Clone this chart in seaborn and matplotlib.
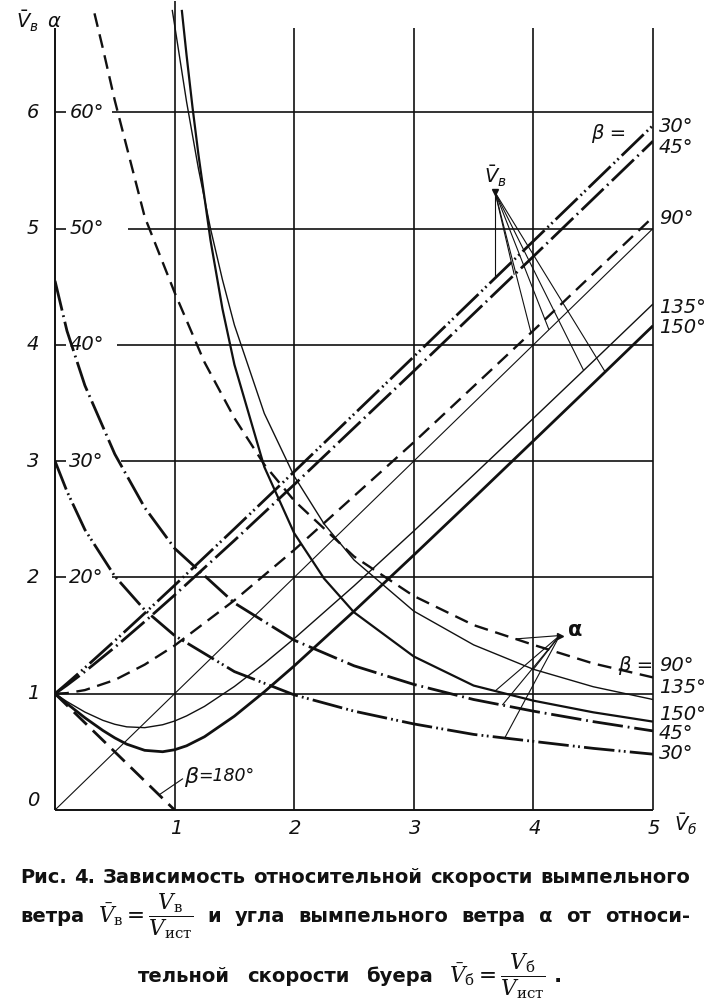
import numpy as np
import matplotlib
matplotlib.use("Agg")
import matplotlib.pyplot as plt
import seaborn as sns

# apparent wind speed Vв (relative) vs boat speed Vб (relative), per course angle beta
vb_hi = [0, 0.1, 0.25, 0.5, 0.75, 1, 1.5, 2, 3, 4, 5]
vv_30 = [1.0, 1.088, 1.223, 1.455, 1.692, 1.932, 2.418, 2.909, 3.898, 4.892, 5.887]
vv_45 = [1.0, 1.073, 1.190, 1.399, 1.620, 1.848, 2.318, 2.798, 3.774, 4.760, 5.751]
vv_90 = [1.0, 1.005, 1.031, 1.118, 1.250, 1.414, 1.803, 2.236, 3.162, 4.123, 5.099]
vb_lo = [0, 0.1, 0.25, 0.4, 0.5, 0.6, 0.75, 0.9, 1, 1.1, 1.25, 1.5, 1.75, 2, 2.5, 3, 3.5, 4, 4.5, 5]
vv_135 = [1.0, 0.932, 0.842, 0.771, 0.737, 0.715, 0.708, 0.733, 0.765, 0.809, 0.891, 1.062,
          1.260, 1.474, 1.927, 2.399, 2.881, 3.368, 3.858, 4.351]
vv_150 = [1.0, 0.915, 0.793, 0.684, 0.620, 0.566, 0.513, 0.501, 0.518, 0.552, 0.630, 0.807,
          1.016, 1.239, 1.709, 2.192, 2.681, 3.174, 3.668, 4.164]
vb_180 = [0, 0.5, 1]
vv_180 = [1.0, 0.5, 0.0]
vb_ref = [0, 5]
vv_ref = [0, 5]

# apparent wind angle alpha (degrees / 10, same y scale)
al_30_x = [0, 0.1, 0.25, 0.5, 0.75, 1, 1.5, 2, 2.5, 3, 3.5, 4, 4.5, 5]
al_30 = [3.0, 2.74, 2.41, 2.01, 1.72, 1.50, 1.19, 0.99, 0.85, 0.74, 0.65, 0.59, 0.53, 0.48]
al_45_x = [0, 0.1, 0.25, 0.5, 0.75, 1, 1.5, 2, 2.5, 3, 3.5, 4, 4.5, 5]
al_45 = [4.55, 4.12, 3.65, 3.06, 2.60, 2.25, 1.78, 1.46, 1.24, 1.08, 0.95, 0.85, 0.76, 0.68]
al_90_x = [0.33, 0.4, 0.5, 0.6, 0.75, 1, 1.25, 1.5, 1.75, 2, 2.5, 3, 3.5, 4, 4.5, 5]
al_90 = [6.85, 6.55, 6.1, 5.7, 5.1, 4.45, 3.85, 3.37, 2.97, 2.66, 2.18, 1.84, 1.59, 1.42, 1.26, 1.14]
al_135_x = [0.98, 1.0, 1.1, 1.2, 1.3, 1.4, 1.5, 1.75, 2, 2.25, 2.5, 3, 3.5, 4, 4.5, 5]
al_135 = [6.88, 6.75, 6.09, 5.51, 5.00, 4.56, 4.17, 3.41, 2.87, 2.46, 2.15, 1.71, 1.42, 1.21, 1.06, 0.95]
al_150_x = [1.06, 1.1, 1.15, 1.2, 1.3, 1.4, 1.5, 1.75, 2, 2.25, 2.5, 3, 3.5, 4, 4.5, 5]
al_150 = [6.88, 6.49, 6.04, 5.63, 4.90, 4.31, 3.83, 2.95, 2.38, 1.99, 1.70, 1.32, 1.07, 0.94, 0.84, 0.76]

y_ticks = [0, 1, 2, 3, 4, 5, 6]
alpha_labels = ["20°", "30°", "40°", "50°", "60°"]
x_ticks = [1, 2, 3, 4, 5]

sns.set_theme(style="white")
plt.rcParams["font.family"] = ["DejaVu Sans"]
plt.rcParams["mathtext.fontset"] = "dejavusans"
plt.rcParams["lines.scale_dashes"] = False
plt.rcParams["lines.solid_capstyle"] = "butt"

K = "#111111"
thick, thin = 2.0, 1.0
st_30 = (0, (22, 3, 1.3, 2.5, 1.3, 3))
st_45 = (0, (22, 3.5, 1.3, 3.5))
st_90 = (0, (10, 5.5))
st_180 = (0, (13, 6))

fig = plt.figure(figsize=(7.07, 10), dpi=100)
# x: 0 -> px 55, 5 -> px 653 ; y: 0 -> px 810, 1 unit = 116.3 px
ax = fig.add_axes([55 / 707, 0.19, 598 / 707, 0.81])
ax.set_xlim(0, 5)
ax.set_ylim(0, 810 / 116.3)
ax.set_axis_off()

# frame and grid
top = 6.72
ax.plot([0, 0], [0, top], color=K, lw=1.4, clip_on=False)
ax.plot([0, 5], [0, 0], color=K, lw=1.4, clip_on=False)
for xv in x_ticks:
    ax.plot([xv, xv], [0, 6.96 if xv == 1 else top], color=K, lw=1.2, clip_on=False)
grid_start = {1: 0.0, 2: 0.48, 3: 0.55, 4: 0.52, 5: 0.61, 6: 0.48}
for yv, x0 in grid_start.items():
    ax.plot([x0, 5], [yv, yv], color=K, lw=1.2, clip_on=False)
for yv in y_ticks[2:]:
    ax.plot([0, 0.09], [yv, yv], color=K, lw=1.2)


def curve(x, y, lw, ls):
    sns.lineplot(x=x, y=y, ax=ax, color=K, linewidth=lw, linestyle=ls, sort=False)


# Vв curves
curve(vb_hi, vv_30, thick, st_30)
curve(vb_hi, vv_45, thick, st_45)
curve(vb_hi, vv_90, 1.7, st_90)
curve(vb_lo, vv_135, thin, "-")
curve(vb_lo, vv_150, thick, "-")
curve(vb_180, vv_180, thick, st_180)
curve(vb_ref, vv_ref, 0.8, "-")

# alpha curves
curve(al_30_x, al_30, thick, st_30)
curve(al_45_x, al_45, thick, st_45)
curve(al_90_x, al_90, 1.7, st_90)
curve(al_135_x, al_135, thin, "-")
curve(al_150_x, al_150, 1.6, "-")

# pointer lines for the Vв family
pv = (3.68, 5.31)
ax.plot([pv[0], pv[0]], [pv[1], np.interp(pv[0], vb_hi, vv_30)], color=K, lw=0.8)
for xs, ys, xe in [(vb_hi, vv_45, 3.84), (vb_hi, vv_90, 3.98), (vb_ref, vv_ref, 4.13),
                   (vb_lo, vv_135, 4.42), (vb_lo, vv_150, 4.6)]:
    ax.plot([pv[0], xe], [pv[1], np.interp(xe, xs, ys)], color=K, lw=0.8)
ax.plot(*pv, marker="v", ms=5, color=K)

# pointer lines for the alpha family
pa = (4.22, 1.50)
for xs, ys, xe in [(al_90_x, al_90, 3.85), (al_135_x, al_135, 4.0), (al_150_x, al_150, 3.68),
                   (al_45_x, al_45, 3.74), (al_30_x, al_30, 3.76)]:
    ax.plot([pa[0], xe], [pa[1], np.interp(xe, xs, ys)], color=K, lw=0.8)
ax.plot(*pa, marker=">", ms=5, color=K)

# beta = 180 pointer
ax.plot([0.87, 1.07], [np.interp(0.87, vb_180, vv_180), 0.27], color=K, lw=0.8)

# chart text
tk = dict(color=K, fontstyle="italic", fontsize=14, va="center")
for yv in y_ticks:
    ax.text(-0.185, yv + (0.08 if yv == 0 else 0.0), str(yv), ha="center", clip_on=False, **tk)
for yv, lab in zip(y_ticks[2:], alpha_labels):
    ax.text(0.12, yv, lab, ha="left", **tk)
for xv in x_ticks:
    ax.text(xv + 0.01, -0.16, str(xv), ha="center", clip_on=False, **tk)
ax.text(5.27, -0.12, r"$\bar{V}_{б}$", ha="center", clip_on=False, **tk)
ax.text(-0.23, 6.78, r"$\bar{V}_{в}$", ha="center", clip_on=False, **tk)
ax.text(-0.01, 6.78, r"$\alpha$", ha="center", clip_on=False, **tk)

ax.text(3.68, 5.45, r"$\bar{V}_{в}$", ha="center", **tk)
ax.text(4.35, 1.55, "α", ha="center", color=K, fontsize=15, fontweight="bold", va="center")

ax.text(4.63, 5.82, "β =", ha="center", **tk)
right = [(5.88, "30°"), (5.70, "45°"), (5.09, "90°"), (4.32, "135°"), (4.15, "150°"),
         (1.05, "135°"), (0.82, "150°"), (0.66, "45°"), (0.49, "30°")]
for yv, lab in right:
    ax.text(5.05, yv, lab, ha="left", clip_on=False, **tk)
ax.text(5.0, 1.24, "β =", ha="right", clip_on=False, **tk)
ax.text(5.05, 1.24, "90°", ha="left", clip_on=False, **tk)
ax.text(1.08, 0.28, "β", ha="left", color=K, fontstyle="italic", fontsize=16, va="center")
ax.text(1.2, 0.29, "=180°", ha="left", color=K, fontstyle="italic", fontsize=12.5, va="center")

# caption, justified word by word
cap = dict(color=K, fontsize=14, fontweight="bold", ha="left", va="baseline")
frac_v = r"$\bar{V}_{\mathrm{в}} = \dfrac{V_{\mathrm{в}}}{V_{\mathrm{ист}}}$"
frac_b = r"$\bar{V}_{\mathrm{б}} = \dfrac{V_{\mathrm{б}}}{V_{\mathrm{ист}}}$ ."
line1 = ["Рис.", "4.", "Зависимость", "относительной", "скорости", "вымпельного"]
line2 = ["ветра", frac_v, "и", "угла", "вымпельного", "ветра", "α", "от", "относи-"]
line3 = ["тельной", "скорости", "буера", frac_b]

renderer = fig.canvas.get_renderer()
for words, yb, x_left, x_right in [(line1, 883, 20, 690), (line2, 922, 20, 690),
                                   (line3, 982, 138, 562)]:
    texts = []
    for w in words:
        kw = dict(cap)
        if w.startswith("$"):
            kw.update(fontsize=15.5, math_fontfamily="dejavuserif")
        texts.append(fig.text(0, 1 - yb / 1000, w, **kw))
    widths = [t.get_window_extent(renderer).width for t in texts]
    gap = (x_right - x_left - sum(widths)) / (len(texts) - 1)
    xpos = x_left
    for t, wd in zip(texts, widths):
        t.set_x(xpos / 707)
        xpos += wd + gap

fig.savefig("out.png", dpi=100)
